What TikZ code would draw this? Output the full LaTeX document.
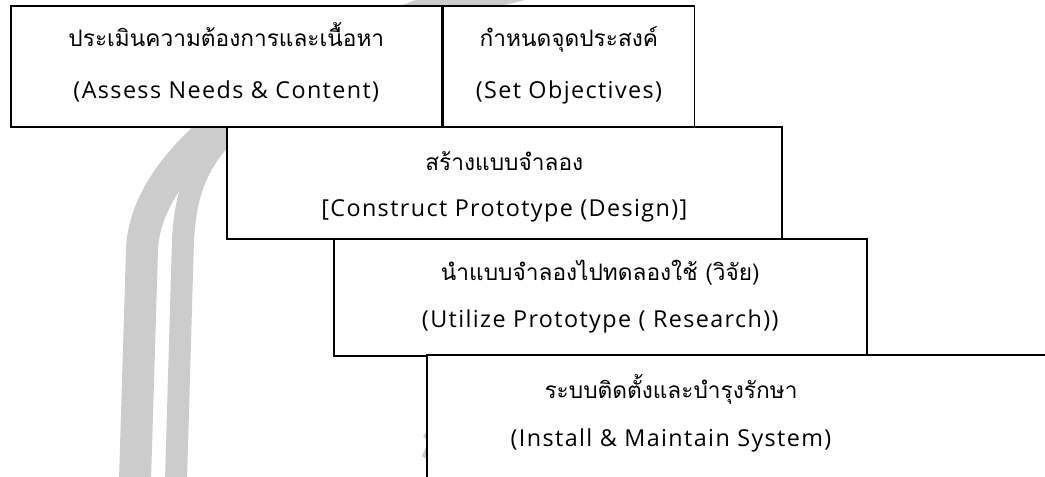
\documentclass[tikz,border=0pt]{standalone}
\usepackage{fontspec}
\setmainfont[LetterSpace=6]{Open Sans}
\newfontfamily\thaifont[Script=Thai]{Loma}
\usetikzlibrary{positioning,calc}

\tikzset{
    stage/.style={draw, fill=white, line width=1.2pt, inner sep=0pt, anchor=north west},
    thai/.style={anchor=base, inner sep=0pt, font=\thaifont\fontsize{17}{20}\selectfont},
    eng/.style={anchor=base, inner sep=0pt, font=\fontsize{17.5}{20}\selectfont},
    watermark/.style={draw=black!20, line cap=butt}
}

\begin{document}
\begin{tikzpicture}[x=0.75pt, y=-0.75pt]
    \useasboundingbox (0,0) rectangle (1045,477);
    \clip (0,0) rectangle (1045,477);

    % The watermark behind the boxes
    \draw[watermark, line width=24pt]
        (135,480) -- (142,250) .. controls (146,130) and (360,20) .. (540,-20);
    \draw[watermark, line width=16.5pt]
        (176,480) -- (183,240) .. controls (186,180) and (205,150) .. (245,115);
    \fill[black!20] (433,421) -- (423,437) -- (429,440) -- (422,456) -- (433,463) -- cycle;

    % The stages
    \node[stage, minimum width=323.25pt, minimum height=90.75pt] (needs) at (10,5) {};
    \node[stage, minimum width=188.25pt, minimum height=90.75pt] (objectives) at (needs.north east) {};
    \node[stage, minimum width=416.25pt, minimum height=84pt] (design) at (226,126) {};
    \node[stage, minimum width=399.75pt, minimum height=87.75pt] (research) at (333,238) {};
    % the last one runs off the page
    \draw[fill=white, line width=1.2pt] (427,355) rectangle (1070,500);
    \coordinate (install) at (671,355);

    % The texts
    \node[thai] (needs-th) at ($(needs.north)+(0,42)$) {ประเมินความต้องการและเนื้อหา};
    \node[eng] (needs-en) at ($(needs.north)+(0,94)$) {(Assess Needs \& Content)};
    \node[thai] (objectives-th) at ($(objectives.north)+(0,42)$) {กำหนดจุดประสงค์};
    \node[eng] (objectives-en) at ($(objectives.north)+(0,94)$) {(Set Objectives)};
    \node[thai] (design-th) at ($(design.north)+(0,45)$) {สร้างแบบจำลอง};
    \node[eng] (design-en) at ($(design.north)+(0,91)$) {[Construct Prototype (Design)]};
    \node[thai] (research-th) at ($(research.north)+(0,43)$) {นำแบบจำลองไปทดลองใช้ (วิจัย)};
    \node[eng] (research-en) at ($(research.north)+(0,89)$) {(Utilize Prototype ( Research))};
    \node[thai] (install-th) at ($(install)+(0,43)$) {ระบบติดตั้งและบำรุงรักษา};
    \node[eng] (install-en) at ($(install)+(0,91)$) {(Install \& Maintain System)};
\end{tikzpicture}
\end{document}
